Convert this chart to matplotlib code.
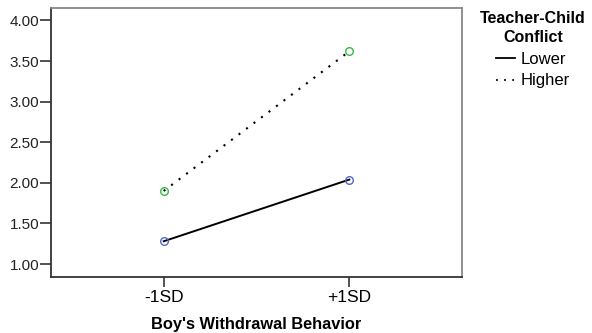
import numpy as np
import matplotlib.pyplot as plt
from matplotlib.lines import Line2D

plt.rcParams['font.family'] = ['Liberation Sans', 'DejaVu Sans']

# Dane
categories = ['-1SD', '+1SD']
lower = [1.28, 2.04]
higher = [1.90, 3.62]
yticks = [1.0, 1.5, 2.0, 2.5, 3.0, 3.5, 4.0]

fig = plt.figure(figsize=(5.92, 3.33), dpi=100)
ax = fig.add_axes([51/592, 1 - 277/333, (462 - 51)/592, (277 - 7.5)/333])

x = np.arange(len(categories))
ax.plot(x, lower, color='black', lw=1.4, ls='-', marker='o', ms=5.5,
        mfc='none', mec='#5566cc', mew=1.0)
ax.plot(x, higher, color='black', lw=1.5, ls=(0, (1, 3.5)), marker='o', ms=5.5,
        mfc='none', mec='#33bb44', mew=1.0)

ax.set_xlim(-0.607, 1.607)
ax.set_ylim(0.84, 4.16)
ax.set_xticks(x)
ax.set_xticklabels(categories, fontsize=12.5)
ax.set_yticks(yticks)
ax.set_yticklabels(['%.2f' % v for v in yticks], fontsize=11, color='#222222')
ax.tick_params(axis='y', length=8, width=1.2, color='#333333', pad=0.5)
ax.tick_params(axis='x', length=7, width=1.2, color='#333333', pad=2)

for s in ['left', 'bottom']:
    ax.spines[s].set_color('#333333')
    ax.spines[s].set_linewidth(1.3)
for s in ['top', 'right']:
    ax.spines[s].set_color('#888888')
    ax.spines[s].set_linewidth(1.3)

ax.set_xlabel("Boy's Withdrawal Behavior", fontsize=11.8, fontweight='bold', labelpad=9)

# Legenda
handles = [Line2D([0], [0], color='black', lw=1.3, ls='-'),
           Line2D([0], [0], color='black', lw=1.3, ls=(0, (1, 3.5)))]
leg = fig.legend(handles, ['Lower', 'Higher'], loc='upper center',
                 bbox_to_anchor=(533/592, 1.0), frameon=False, fontsize=12,
                 title='Teacher-Child\nConflict', handlelength=1.1,
                 handletextpad=0.35, labelspacing=0.4, borderpad=0.15)
leg.get_title().set_fontweight('bold')
leg.get_title().set_fontsize(11.5)
leg.get_title().set_multialignment('center')
leg.get_title().set_linespacing(1.35)

fig.savefig('out.png', dpi=100)
